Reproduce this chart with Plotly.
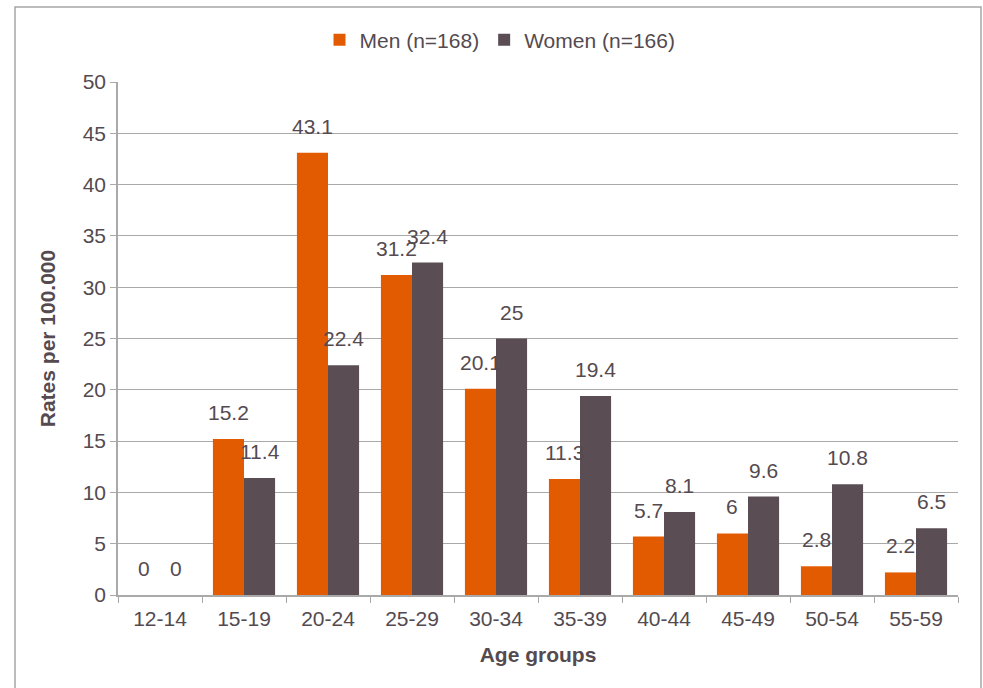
import plotly.graph_objects as go

age_groups = ["12-14", "15-19", "20-24", "25-29", "30-34", "35-39", "40-44", "45-49", "50-54", "55-59"]
men = [0, 15.2, 43.1, 31.2, 20.1, 11.3, 5.7, 6, 2.8, 2.2]
women = [0, 11.4, 22.4, 32.4, 25, 19.4, 8.1, 9.6, 10.8, 6.5]
y_ticks = [0, 5, 10, 15, 20, 25, 30, 35, 40, 45, 50]

TEXT = "#544a4f"
GRID = "#a9a9a9"
FONT = "Liberation Sans, Arial, sans-serif"
FS = 21

W, H = 983, 688
ML, MR, MT, MB = 118, 25, 82, 93
PW, PH = W - ML - MR, H - MT - MB
BARGAP = 0.26
# half of one bar's width in pixels, used to centre value labels over each bar
half_bar = PW / len(age_groups) * (1 - BARGAP) / 4

fig = go.Figure()
fig.add_trace(go.Bar(
    x=age_groups, y=men, name="Men (n=168)",
    marker=dict(color="#e35b00", line=dict(width=0)),
))
fig.add_trace(go.Bar(
    x=age_groups, y=women, name="Women (n=166)",
    marker=dict(color="#5a4e54", line=dict(width=0)),
))

# value labels above each bar
annotations = []
for series, shift in ((men, -half_bar), (women, half_bar)):
    for cat, val in zip(age_groups, series):
        annotations.append(dict(
            x=cat, y=val, xref="x", yref="y", text=str(val),
            showarrow=False, xanchor="center", yanchor="bottom",
            xshift=shift, yshift=13,
            font=dict(size=FS, color=TEXT, family=FONT),
        ))


def px_x(x):
    return (x - ML) / PW


def px_y(y):
    return (H - MB - y) / PH


fig.update_layout(
    width=W, height=H,
    margin=dict(l=ML, r=MR, t=MT, b=MB),
    paper_bgcolor="white", plot_bgcolor="white",
    barmode="group", bargap=BARGAP, bargroupgap=0,
    font=dict(family=FONT, color=TEXT, size=FS),
    showlegend=True,
    legend=dict(
        orientation="h", x=px_x(500), y=px_y(40), xanchor="center", yanchor="middle",
        font=dict(size=FS, color=TEXT, family=FONT),
        itemwidth=30, traceorder="normal",
        bgcolor="rgba(0,0,0,0)",
    ),
    xaxis=dict(
        type="category",
        showline=True, linecolor=GRID, linewidth=1.5,
        ticks="outside", ticklen=6, tickcolor=GRID,
        tickson="boundaries", ticklabelstandoff=4,
        tickfont=dict(size=FS, color=TEXT, family=FONT),
        title=dict(text="<b>Age groups</b>", font=dict(size=FS, color=TEXT, family=FONT), standoff=18),
        showgrid=False,
    ),
    yaxis=dict(
        range=[0, 50], tickvals=y_ticks,
        showline=True, linecolor=GRID, linewidth=1.5,
        ticks="outside", ticklen=6, tickcolor=GRID,
        showgrid=True, gridcolor=GRID, gridwidth=1.2,
        zeroline=False,
        tickfont=dict(size=FS, color=TEXT, family=FONT),
        title=dict(text="<b>Rates per 100.000</b>", font=dict(size=FS, color=TEXT, family=FONT), standoff=21),
    ),
    annotations=annotations,
    shapes=[dict(
        type="rect", xref="paper", yref="paper",
        x0=px_x(15), x1=px_x(981), y0=px_y(720), y1=px_y(7),
        line=dict(color="#a6a6a6", width=1.5), fillcolor="rgba(0,0,0,0)", layer="below",
    )],
)

fig.write_html("out.html")
